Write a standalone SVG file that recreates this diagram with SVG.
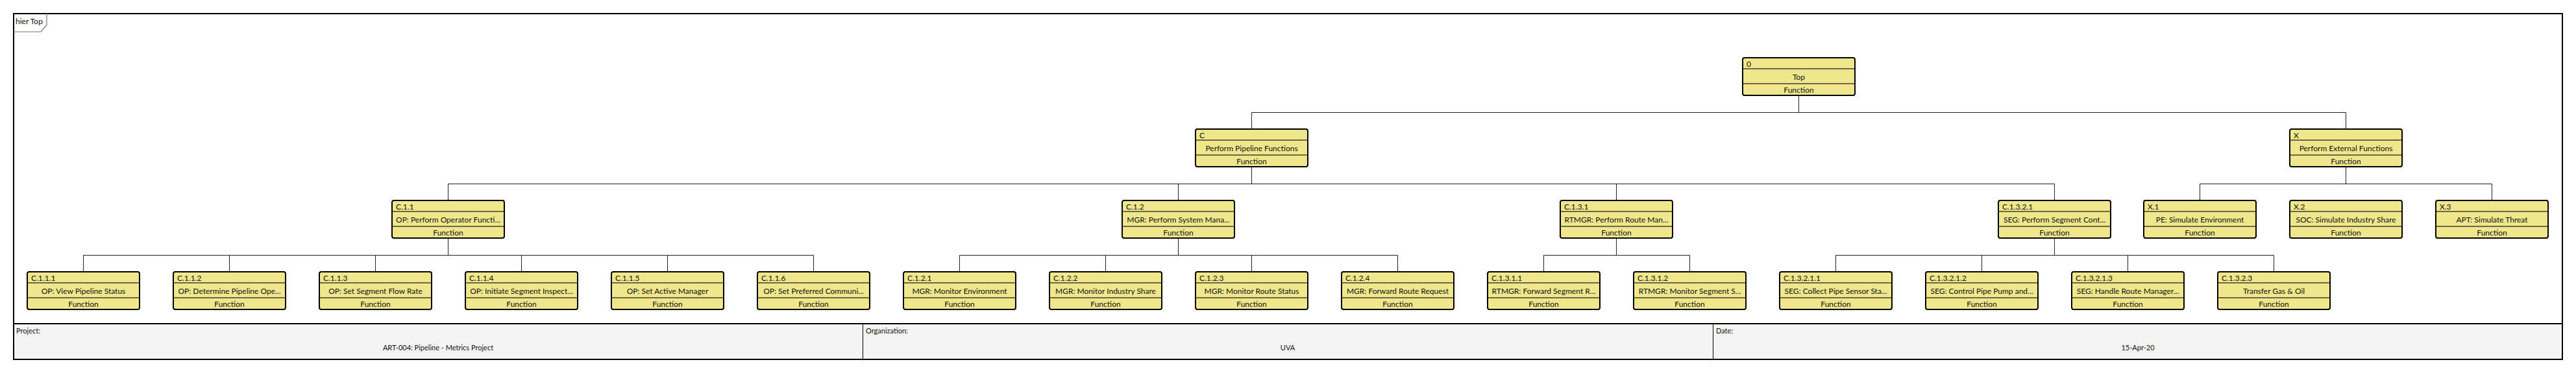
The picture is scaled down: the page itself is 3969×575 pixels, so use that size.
<svg xmlns="http://www.w3.org/2000/svg" width="3969" height="575" viewBox="0 0 3969 575">
<style>
text{font-family:Lato,"Liberation Sans",sans-serif;font-size:12px;fill:#111}
.box{fill:#f0e68c;stroke:#000;stroke-width:2}
.div{stroke:#6e6845;stroke-width:2}
.c{text-anchor:middle}
.con line{stroke:#222;stroke-width:1}
</style>
<defs>
<g id="shape">
<rect class="box" x="0" y="0" width="173" height="58" rx="3"/>
<line class="div" x1="1" y1="17" x2="172" y2="17"/>
<line class="div" x1="1" y1="40" x2="172" y2="40"/>
<text class="c" x="86.5" y="54">Function</text>
</g>
</defs>
<rect x="0" y="0" width="3969" height="575" fill="#fff"/>
<g id="frame">
<rect x="21" y="499" width="3927" height="55" fill="#f4f4f4"/>
<rect x="21" y="21" width="3927" height="533" fill="none" stroke="#000" stroke-width="2"/>
<line x1="21" y1="499" x2="3948" y2="499" stroke="#000" stroke-width="2"/>
<line x1="1329.5" y1="499" x2="1329.5" y2="554" stroke="#000" stroke-width="1"/>
<line x1="2639.5" y1="499" x2="2639.5" y2="554" stroke="#000" stroke-width="1"/>
<polyline points="21,49 63,49 72,38.5 72,21" fill="none" stroke="#777" stroke-width="1.2"/>
<text x="24" y="37">hier Top</text>
<text x="25" y="514" style="font-size:11px">Project:</text>
<text class="c" x="675" y="540" style="font-size:11px">ART-004: Pipeline - Metrics Project</text>
<text x="1334" y="514" style="font-size:11px">Organization:</text>
<text class="c" x="1984" y="540" style="font-size:11px">UVA</text>
<text x="2644" y="514" style="font-size:11px">Date:</text>
<text class="c" x="3294" y="540" style="font-size:11px">15-Apr-20</text>
</g>
<g id="connectors" class="con">
<line x1="2771.5" y1="147" x2="2771.5" y2="173.5"/>
<line x1="1928.5" y1="173.5" x2="3614.5" y2="173.5"/>
<line x1="1928.5" y1="173.5" x2="1928.5" y2="199"/>
<line x1="3614.5" y1="173.5" x2="3614.5" y2="199"/>
<line x1="1928.5" y1="257" x2="1928.5" y2="283.5"/>
<line x1="690.5" y1="283.5" x2="3165.5" y2="283.5"/>
<line x1="690.5" y1="283.5" x2="690.5" y2="309"/>
<line x1="1815.5" y1="283.5" x2="1815.5" y2="309"/>
<line x1="2490.5" y1="283.5" x2="2490.5" y2="309"/>
<line x1="3165.5" y1="283.5" x2="3165.5" y2="309"/>
<line x1="3614.5" y1="257" x2="3614.5" y2="283.5"/>
<line x1="3389.5" y1="283.5" x2="3839.5" y2="283.5"/>
<line x1="3389.5" y1="283.5" x2="3389.5" y2="309"/>
<line x1="3839.5" y1="283.5" x2="3839.5" y2="309"/>
<line x1="690.5" y1="367" x2="690.5" y2="393.5"/>
<line x1="128.5" y1="393.5" x2="1253.5" y2="393.5"/>
<line x1="128.5" y1="393.5" x2="128.5" y2="419"/>
<line x1="353.5" y1="393.5" x2="353.5" y2="419"/>
<line x1="578.5" y1="393.5" x2="578.5" y2="419"/>
<line x1="803.5" y1="393.5" x2="803.5" y2="419"/>
<line x1="1028.5" y1="393.5" x2="1028.5" y2="419"/>
<line x1="1253.5" y1="393.5" x2="1253.5" y2="419"/>
<line x1="1815.5" y1="367" x2="1815.5" y2="393.5"/>
<line x1="1478.5" y1="393.5" x2="2153.5" y2="393.5"/>
<line x1="1478.5" y1="393.5" x2="1478.5" y2="419"/>
<line x1="1703.5" y1="393.5" x2="1703.5" y2="419"/>
<line x1="1928.5" y1="393.5" x2="1928.5" y2="419"/>
<line x1="2153.5" y1="393.5" x2="2153.5" y2="419"/>
<line x1="2490.5" y1="367" x2="2490.5" y2="393.5"/>
<line x1="2378.5" y1="393.5" x2="2603.5" y2="393.5"/>
<line x1="2378.5" y1="393.5" x2="2378.5" y2="419"/>
<line x1="2603.5" y1="393.5" x2="2603.5" y2="419"/>
<line x1="3165.5" y1="367" x2="3165.5" y2="393.5"/>
<line x1="2828.5" y1="393.5" x2="3503.5" y2="393.5"/>
<line x1="2828.5" y1="393.5" x2="2828.5" y2="419"/>
<line x1="3053.5" y1="393.5" x2="3053.5" y2="419"/>
<line x1="3278.5" y1="393.5" x2="3278.5" y2="419"/>
<line x1="3503.5" y1="393.5" x2="3503.5" y2="419"/>
</g>
<g id="n0" transform="translate(2685,89)"><use href="#shape"/><text x="6" y="13.5">0</text><text class="c" x="86.5" y="33.5">Top</text></g>
<g id="nC" transform="translate(1842,199)"><use href="#shape"/><text x="6" y="13.5">C</text><text class="c" x="86.5" y="33.5">Perform Pipeline Functions</text></g>
<g id="nX" transform="translate(3528,199)"><use href="#shape"/><text x="6" y="13.5">X</text><text class="c" x="86.5" y="33.5">Perform External Functions</text></g>
<g id="nC11" transform="translate(604,309)"><use href="#shape"/><text x="6" y="13.5">C.1.1</text><text class="c" x="86.5" y="33.5">OP: Perform Operator Functi...</text></g>
<g id="nC12" transform="translate(1729,309)"><use href="#shape"/><text x="6" y="13.5">C.1.2</text><text class="c" x="86.5" y="33.5">MGR: Perform System Mana...</text></g>
<g id="nC131" transform="translate(2404,309)"><use href="#shape"/><text x="6" y="13.5">C.1.3.1</text><text class="c" x="86.5" y="33.5">RTMGR: Perform Route Man...</text></g>
<g id="nC1321" transform="translate(3079,309)"><use href="#shape"/><text x="6" y="13.5">C.1.3.2.1</text><text class="c" x="86.5" y="33.5">SEG: Perform Segment Cont...</text></g>
<g id="nX1" transform="translate(3303,309)"><use href="#shape"/><text x="6" y="13.5">X.1</text><text class="c" x="86.5" y="33.5">PE: Simulate Environment</text></g>
<g id="nX2" transform="translate(3528,309)"><use href="#shape"/><text x="6" y="13.5">X.2</text><text class="c" x="86.5" y="33.5">SOC: Simulate Industry Share</text></g>
<g id="nX3" transform="translate(3753,309)"><use href="#shape"/><text x="6" y="13.5">X.3</text><text class="c" x="86.5" y="33.5">APT: Simulate Threat</text></g>
<g id="nC111" transform="translate(42,419)"><use href="#shape"/><text x="6" y="13.5">C.1.1.1</text><text class="c" x="86.5" y="33.5">OP: View Pipeline Status</text></g>
<g id="nC112" transform="translate(267,419)"><use href="#shape"/><text x="6" y="13.5">C.1.1.2</text><text class="c" x="86.5" y="33.5">OP: Determine Pipeline Ope...</text></g>
<g id="nC113" transform="translate(492,419)"><use href="#shape"/><text x="6" y="13.5">C.1.1.3</text><text class="c" x="86.5" y="33.5">OP: Set Segment Flow Rate</text></g>
<g id="nC114" transform="translate(717,419)"><use href="#shape"/><text x="6" y="13.5">C.1.1.4</text><text class="c" x="86.5" y="33.5">OP: Initiate Segment Inspect...</text></g>
<g id="nC115" transform="translate(942,419)"><use href="#shape"/><text x="6" y="13.5">C.1.1.5</text><text class="c" x="86.5" y="33.5">OP: Set Active Manager</text></g>
<g id="nC116" transform="translate(1167,419)"><use href="#shape"/><text x="6" y="13.5">C.1.1.6</text><text class="c" x="86.5" y="33.5">OP: Set Preferred Communi...</text></g>
<g id="nC121" transform="translate(1392,419)"><use href="#shape"/><text x="6" y="13.5">C.1.2.1</text><text class="c" x="86.5" y="33.5">MGR: Monitor Environment</text></g>
<g id="nC122" transform="translate(1617,419)"><use href="#shape"/><text x="6" y="13.5">C.1.2.2</text><text class="c" x="86.5" y="33.5">MGR: Monitor Industry Share</text></g>
<g id="nC123" transform="translate(1842,419)"><use href="#shape"/><text x="6" y="13.5">C.1.2.3</text><text class="c" x="86.5" y="33.5">MGR: Monitor Route Status</text></g>
<g id="nC124" transform="translate(2067,419)"><use href="#shape"/><text x="6" y="13.5">C.1.2.4</text><text class="c" x="86.5" y="33.5">MGR: Forward Route Request</text></g>
<g id="nC1311" transform="translate(2292,419)"><use href="#shape"/><text x="6" y="13.5">C.1.3.1.1</text><text class="c" x="86.5" y="33.5">RTMGR: Forward Segment R...</text></g>
<g id="nC1312" transform="translate(2517,419)"><use href="#shape"/><text x="6" y="13.5">C.1.3.1.2</text><text class="c" x="86.5" y="33.5">RTMGR: Monitor Segment S...</text></g>
<g id="nC13211" transform="translate(2742,419)"><use href="#shape"/><text x="6" y="13.5">C.1.3.2.1.1</text><text class="c" x="86.5" y="33.5">SEG: Collect Pipe Sensor Sta...</text></g>
<g id="nC13212" transform="translate(2967,419)"><use href="#shape"/><text x="6" y="13.5">C.1.3.2.1.2</text><text class="c" x="86.5" y="33.5">SEG: Control Pipe Pump and...</text></g>
<g id="nC13213" transform="translate(3192,419)"><use href="#shape"/><text x="6" y="13.5">C.1.3.2.1.3</text><text class="c" x="86.5" y="33.5">SEG: Handle Route Manager...</text></g>
<g id="nC1323" transform="translate(3417,419)"><use href="#shape"/><text x="6" y="13.5">C.1.3.2.3</text><text class="c" x="86.5" y="33.5">Transfer Gas &amp; Oil</text></g>
</svg>
